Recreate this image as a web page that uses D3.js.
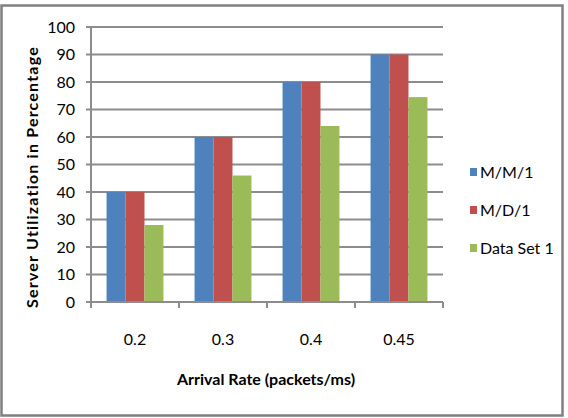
<!doctype html>
<html>
  <head>
    <script src="https://cdn.jsdelivr.net/npm/d3@7/dist/d3.min.js"></script>
    <style>
      body, html {
        margin: 0;
        background: #fff;
      }
      svg {
        font-family: Lato, "Open Sans", sans-serif;
      }
      .grid line {
        stroke: #8c8c8c;
        stroke-width: 2px;
      }
      .axis text, text.axis {
        font-size: 16px;
        fill: #000;
      }
      .title {
        font-weight: bold;
        font-size: 16px;
      }
    </style>
  </head>
  <body>
    <svg width="568" height="418"></svg>
    <script>
      var categories = ["0.2", "0.3", "0.4", "0.45"];
      var seriesNames = ["M/M/1", "M/D/1", "Data Set 1"];
      var mm1 = [40, 60, 80, 90];
      var md1 = [40, 60, 80, 90];
      var dataSet1 = [28, 46, 64, 74.5];
      var yTicks = [0, 10, 20, 30, 40, 50, 60, 70, 80, 90, 100];
      var colors = ["#4f81bd", "#c0504d", "#9bbb59"];

      var series = [mm1, md1, dataSet1];
      var svg = d3.select("svg");

      // outer frame
      svg.append("rect")
        .attr("x", 1.5).attr("y", 5.5)
        .attr("width", 561).attr("height", 410)
        .attr("fill", "none")
        .attr("stroke", "#808080")
        .attr("stroke-width", 2.5);

      var plotLeft = 91, plotRight = 443, plotTop = 27, plotBottom = 302;

      var x = d3.scaleBand().domain(categories).range([plotLeft, plotRight]);
      var x1 = d3.scaleBand().domain(d3.range(3))
        .range([0, x.bandwidth()]).paddingOuter(0.82).paddingInner(0);
      var y = d3.scaleLinear().domain([0, 100]).range([plotBottom, plotTop]);

      // gridlines with outside ticks
      svg.append("g").attr("class", "grid")
        .selectAll("line").data(yTicks).enter().append("line")
          .attr("x1", plotLeft - 5).attr("x2", plotRight)
          .attr("y1", d => y(d)).attr("y2", d => y(d));

      // y labels
      svg.append("g").attr("class", "axis")
        .selectAll("text").data(yTicks).enter().append("text")
          .attr("x", 75).attr("y", d => y(d))
          .attr("dy", "0.35em")
          .attr("text-anchor", "end")
          .text(d => d);

      // bars
      svg.append("g").selectAll("g").data(categories).enter().append("g")
        .attr("transform", d => "translate(" + x(d) + ",0)")
        .selectAll("rect")
        .data((d, i) => series.map((s, k) => ({k: k, v: s[i]})))
        .enter().append("rect")
          .attr("x", d => x1(d.k))
          .attr("width", x1.bandwidth())
          .attr("y", d => y(d.v))
          .attr("height", d => y(0) - y(d.v))
          .attr("fill", d => colors[d.k]);

      // axis lines
      svg.append("line")
        .attr("x1", plotLeft).attr("x2", plotLeft)
        .attr("y1", plotTop).attr("y2", plotBottom)
        .attr("stroke", "#8c8c8c").attr("stroke-width", 2);
      svg.append("line")
        .attr("x1", plotLeft - 5).attr("x2", plotRight)
        .attr("y1", plotBottom).attr("y2", plotBottom)
        .attr("stroke", "#8c8c8c").attr("stroke-width", 2);
      svg.append("g").selectAll("line")
        .data(categories.map(c => x(c)).concat([plotRight]))
        .enter().append("line")
          .attr("x1", d => d).attr("x2", d => d)
          .attr("y1", plotBottom).attr("y2", plotBottom + 6)
          .attr("stroke", "#8c8c8c").attr("stroke-width", 2);

      // x labels
      svg.append("g").attr("class", "axis")
        .selectAll("text").data(categories).enter().append("text")
          .attr("x", d => x(d) + x.bandwidth() / 2)
          .attr("y", 339).attr("dy", "0.35em")
          .attr("text-anchor", "middle")
          .text(d => d);

      // titles
      svg.append("text").attr("class", "title")
        .attr("x", 266).attr("y", 379).attr("dy", "0.35em")
        .attr("text-anchor", "middle")
        .text("Arrival Rate (packets/ms)");
      svg.append("text").attr("class", "title")
        .attr("transform", "translate(32,177) rotate(-90)")
        .attr("dy", "0.35em")
        .attr("text-anchor", "middle")
        .style("letter-spacing", "1.2px")
        .text("Server Utilization in Percentage");

      // legend
      var legend = svg.append("g").selectAll("g").data(seriesNames).enter().append("g")
        .attr("transform", (d, i) => "translate(470," + (172 + i * 38) + ")");
      legend.append("rect")
        .attr("x", 0).attr("y", -4).attr("width", 7).attr("height", 8)
        .attr("fill", (d, i) => colors[i]);
      legend.append("text").attr("class", "axis")
        .attr("x", 10).attr("dy", "0.35em")
        .text(d => d);
    </script>
  </body>
</html>
